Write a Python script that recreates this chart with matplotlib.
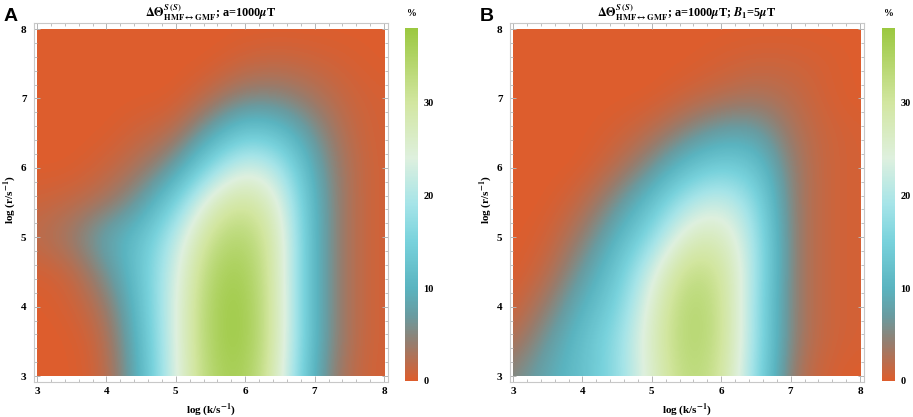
import numpy as np
import matplotlib.pyplot as plt
from matplotlib.colors import LinearSegmentedColormap, Normalize
from matplotlib.patches import Rectangle
from matplotlib.ticker import MultipleLocator
import matplotlib.cm as cm

plt.rcParams['font.family'] = ['Liberation Serif', 'DejaVu Serif']
plt.rcParams['font.weight'] = 'bold'
plt.rcParams['mathtext.fontset'] = 'stix'

# grid of the maps (log units)
log_k = np.arange(3.0, 8.01, 0.5)
log_r = np.arange(3.0, 8.01, 0.5)

# panel A, rows log r = 3 .. 8, columns log k = 3 .. 8, values in %
theta_a = np.array([
    [0.0, 0.0, 1.0, 10, 24, 35, 37, 26, 8, 1.5, 0.5],
    [0.0, 0.0, 1.5, 11, 24, 36, 38, 27, 9, 2.0, 0.5],
    [0.0, 0.5, 3.0, 12, 24, 36, 38, 27, 9, 2.0, 0.5],
    [0.5, 1.0, 6.0, 13, 23, 35, 37, 27, 9, 2.0, 0.5],
    [2.0, 4.0, 9.0, 12, 21, 32, 35, 27, 9, 2.0, 0.5],
    [1.0, 1.5, 3.0, 7, 15, 27, 31, 25, 9, 2.0, 0.5],
    [0.0, 0.0, 1.0, 3, 7, 17, 24, 20, 8, 2.0, 0.5],
    [0.0, 0.0, 0.0, 1, 2, 8, 14, 12, 6, 1.5, 0.5],
    [0.0, 0.0, 0.0, 0, 0, 2, 5, 5, 3, 1.0, 0.5],
    [0.0, 0.0, 0.0, 0, 0, 0, 1, 1.5, 1, 0.5, 0.0],
    [0.0, 0.0, 0.0, 0, 0, 0, 0, 0, 0, 0.0, 0.0],
])

# panel B, same grid
theta_b = np.array([
    [5.0, 9.0, 12, 17, 26, 34, 31, 17, 3.0, 0.5, 0.0],
    [2.0, 7.0, 12, 17, 27, 35, 32, 18, 4.0, 1.0, 0.5],
    [0.5, 4.0, 10, 15, 26, 35, 32, 18, 4.0, 1.0, 0.5],
    [0.0, 1.5, 7, 13, 23, 33, 31, 19, 4.0, 1.0, 0.5],
    [0.0, 0.5, 4, 10, 17, 27, 28, 19, 4.0, 1.0, 0.5],
    [0.0, 0.0, 1.5, 6, 12, 20, 23, 17, 4.0, 1.0, 0.5],
    [0.0, 0.0, 0.0, 2, 6, 12, 15, 13, 4.0, 1.0, 0.5],
    [0.0, 0.0, 0.0, 0.5, 2, 5, 8, 8, 3.0, 1.0, 0.5],
    [0.0, 0.0, 0.0, 0, 0, 1, 2, 3, 2.0, 0.5, 0.0],
    [0.0, 0.0, 0.0, 0, 0, 0, 0.5, 1, 1.0, 0.5, 0.0],
    [0.0, 0.0, 0.0, 0, 0, 0, 0, 0, 0.0, 0.0, 0.0],
])

vmax = 38.0
cb_ticks = [0, 10, 20, 30]

titles = [r'$\mathbf{\Delta\Theta}^{S\,(S)}_{\mathbf{HMF}\leftrightarrow\mathbf{GMF}}$; a=1000$\mu$T',
          r'$\mathbf{\Delta\Theta}^{S\,(S)}_{\mathbf{HMF}\leftrightarrow\mathbf{GMF}}$; a=1000$\mu$T; $B_1$=5$\mu$T']
panel_letters = ['A', 'B']

# colour scale (Mathematica-like)
stops = [0, 4, 7, 10, 15, 19, 24, 30, 38]
colors = ['#dd5d2d', '#967d6e', '#699ba0', '#5ab4c0', '#78d2dc',
          '#a5e4e8', '#def0de', '#d2e6a0', '#9bc840']
cmap = LinearSegmentedColormap.from_list('heat', list(zip(np.array(stops) / vmax, colors)))
norm = Normalize(0, vmax)

fig = plt.figure(figsize=(9.13, 4.17), dpi=100)
W, H = 913.0, 417.0

# pixel layout
ax_px = [(33.5, 388.2), (509.5, 864.2)]
cb_px = [405, 882]
top_px, bot_px = 22.8, 381.6

step = log_k[1] - log_k[0]
ext = [log_k[0] - step / 2, log_k[-1] + step / 2, log_r[0] - step / 2, log_r[-1] + step / 2]

for i, data in enumerate([theta_a, theta_b]):
    x0, x1 = ax_px[i]
    ax = fig.add_axes([x0 / W, 1 - bot_px / H, (x1 - x0) / W, (bot_px - top_px) / H])
    im = ax.imshow(data, origin='lower', extent=ext, cmap=cmap, norm=norm,
                   interpolation='bicubic', interpolation_stage='data', aspect='auto')
    clip = Rectangle((3, 3), 5, 5, transform=ax.transData)
    im.set_clip_path(clip)
    ax.set_xlim(2.95, 8.06)
    ax.set_ylim(2.92, 8.09)

    for s in ax.spines.values():
        s.set_color('#c8c8c8')
        s.set_linewidth(0.8)
    ax.xaxis.set_major_locator(MultipleLocator(1))
    ax.yaxis.set_major_locator(MultipleLocator(1))
    ax.xaxis.set_minor_locator(MultipleLocator(0.2))
    ax.yaxis.set_minor_locator(MultipleLocator(0.2))
    ax.tick_params(which='both', direction='in', top=True, right=True, color='#b4b4b4',
                   labelsize=8)
    ax.tick_params(axis='x', pad=4)
    ax.tick_params(axis='y', pad=5)
    ax.tick_params(which='major', length=4.5, width=0.7)
    ax.tick_params(which='minor', length=2.5, width=0.6)
    for lab in ax.get_xticklabels() + ax.get_yticklabels():
        lab.set_fontweight('bold')

    ax.set_title(titles[i], fontsize=8.8, fontweight='bold', pad=4)
    xc = (x0 + x1) / 2
    fig.text(xc / W, 1 - 410 / H, r'log (k/s$^{-1}$)', fontsize=8, fontweight='bold',
             ha='center', va='center')
    fig.text((x0 - 24) / W, 1 - 200 / H, r'log (r/s$^{-1}$)', fontsize=8, fontweight='bold',
             ha='center', va='center', rotation=90)

    fig.text((x0 - 30) / W, 1 - 21 / H, panel_letters[i], fontsize=14, fontweight='bold',
             family='Liberation Sans', ha='left', va='baseline')

    # colour bar
    cx = cb_px[i]
    cax = fig.add_axes([cx / W, 1 - 381 / H, 13 / W, (381 - 28) / H])
    cb = fig.colorbar(cm.ScalarMappable(norm=norm, cmap=cmap), cax=cax, ticks=cb_ticks)
    cb.outline.set_visible(False)
    cax.tick_params(length=0, labelsize=7.5, pad=4)
    for lab in cax.get_yticklabels():
        lab.set_fontweight('bold')
    fig.text((cx + 7) / W, 1 - 13 / H, '%', fontsize=7, ha='center', va='center')

fig.savefig('out.png', dpi=100)
